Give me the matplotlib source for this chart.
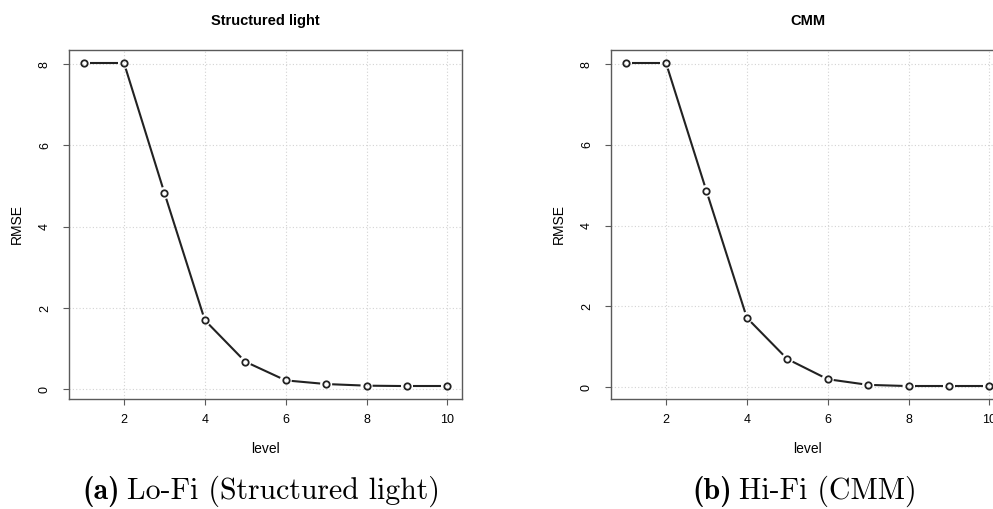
import numpy as np
import matplotlib
matplotlib.use("Agg")
import matplotlib.pyplot as plt

plt.rcParams["font.family"] = ["Liberation Sans", "DejaVu Sans"]

LEVELS = [1, 2, 3, 4, 5, 6, 7, 8, 9, 10]
RMSE_LOFI = [8.03, 8.03, 4.83, 1.70, 0.68, 0.22, 0.13, 0.09, 0.08, 0.08]
RMSE_HIFI = [8.03, 8.03, 4.86, 1.72, 0.70, 0.20, 0.06, 0.03, 0.03, 0.03]
X_TICKS = [2, 4, 6, 8, 10]
Y_TICKS = [0, 2, 4, 6, 8]

INK = "#222222"
FRAME = "#5a5a5a"
GRID = "#d3d3d3"

W, H = 993, 509
DPI = 100


def px(x, y):
    """pixel position (origin top-left) -> figure fraction"""
    return x / W, 1 - y / H


def gapped_line(ax, x, y, gap=6.0):
    # R-style type="b": segments stop short of each point
    pts = ax.transData.transform(np.column_stack([x, y]))
    inv = ax.transData.inverted()
    for a, b in zip(pts[:-1], pts[1:]):
        d = b - a
        n = np.hypot(*d)
        if n <= 2 * gap:
            continue
        u = d / n
        seg = inv.transform(np.array([a + u * gap, b - u * gap]))
        ax.plot(seg[:, 0], seg[:, 1], color=INK, lw=1.5,
                solid_capstyle="butt", zorder=2)
    ax.plot(x, y, "o", ms=4.6, mfc="none", mec=INK, mew=1.3, zorder=3)


def caption(x0, tag, text):
    # bold tag followed by roman text, both Computer Modern
    t = fig.text(*px(x0, 499), tag, ha="left", va="baseline",
                 fontsize=21.5, family="cmb10")
    fig.canvas.draw()
    bb = t.get_window_extent()
    fig.text(bb.x1 / W + 7 / W, 1 - 499 / H, text, ha="left",
             va="baseline", fontsize=21.5, family="cmr10")


def panel(left, values, title):
    ax = fig.add_axes([left, 1 - 399 / H, 393 / W, 349 / H])
    ax.set_xlim(0.64, 10.36)
    lo, hi = min(values), max(values)
    pad = 0.04 * (hi - lo)
    ax.set_ylim(lo - pad, hi + pad)
    ax.set_xticks(X_TICKS)
    ax.set_yticks(Y_TICKS)
    ax.grid(True, color=GRID, ls=(0, (1, 2)), lw=0.8)
    ax.set_axisbelow(True)
    for s in ax.spines.values():
        s.set_color(FRAME)
        s.set_linewidth(1.0)
    ax.tick_params(colors=FRAME, labelcolor="black", labelsize=9,
                   length=4, width=0.8)
    ax.tick_params(axis="x", pad=7)
    ax.tick_params(axis="y", pad=9, labelrotation=90)
    for lab in ax.get_yticklabels():
        lab.set_va("center")
    gapped_line(ax, LEVELS, values)

    x0 = left * W
    fig.text(*px(x0 + 196.5, 21), title, ha="center", va="center",
             fontsize=10.5, fontweight="bold")
    fig.text(*px(x0 + 196.5, 449), "level", ha="center", va="center",
             fontsize=10)
    fig.text(*px(x0 - 52, 224), "RMSE", ha="center", va="center",
             fontsize=10, rotation=90)
    return ax


fig = plt.figure(figsize=(W / DPI, H / DPI), dpi=DPI)
panel(69 / W, RMSE_LOFI, "Structured light")
panel(611 / W, RMSE_HIFI, "CMM")
caption(82, "(a)", "Lo-Fi (Structured light)")
caption(692, "(b)", "Hi-Fi (CMM)")
fig.savefig("out.png", dpi=DPI, facecolor="white")
